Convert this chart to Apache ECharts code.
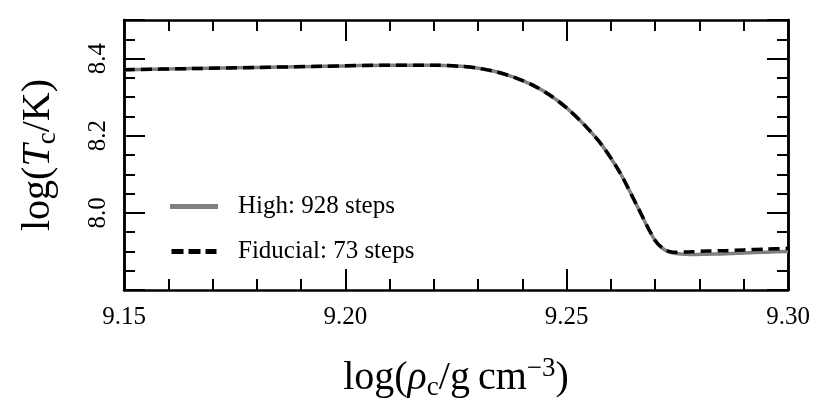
<!DOCTYPE html>
<html>
<head>
<meta charset="utf-8">
<script src="https://cdn.jsdelivr.net/npm/echarts@6.0.0/dist/echarts.min.js"></script>
<style>
  html, body { margin: 0; padding: 0; background: #ffffff; }
  #chart { width: 830px; height: 415px; }
</style>
</head>
<body>
<div id="chart"></div>
<script>
  // central density / temperature track
  const highRho = [9.150, 9.160, 9.170, 9.180, 9.190, 9.200, 9.210, 9.216, 9.220, 9.223,
    9.226, 9.228, 9.230, 9.234, 9.238, 9.242, 9.246, 9.250, 9.254, 9.258,
    9.262, 9.264, 9.266, 9.268, 9.270, 9.272, 9.274, 9.276, 9.278, 9.282,
    9.286, 9.290, 9.295, 9.300];
  const highT = [8.371, 8.373, 8.375, 8.377, 8.379, 8.381, 8.383, 8.383, 8.383, 8.382,
    8.380, 8.378, 8.375, 8.366, 8.352, 8.333, 8.307, 8.272, 8.228, 8.175,
    8.105, 8.062, 8.016, 7.969, 7.928, 7.905, 7.896, 7.893, 7.892, 7.893,
    7.894, 7.896, 7.898, 7.900];

  const fidRho = [9.150, 9.165, 9.180, 9.195, 9.210, 9.220, 9.226, 9.230, 9.234, 9.238,
    9.242, 9.246, 9.250, 9.254, 9.258, 9.262, 9.266, 9.270, 9.272, 9.274,
    9.278, 9.282, 9.286, 9.290, 9.295, 9.300];
  const fidT = [8.371, 8.374, 8.377, 8.380, 8.383, 8.383, 8.380, 8.375, 8.366, 8.352,
    8.333, 8.307, 8.272, 8.228, 8.175, 8.105, 8.016, 7.928, 7.906, 7.898,
    7.899, 7.901, 7.902, 7.904, 7.906, 7.908];

  const seriesNames = ['High: 928 steps', 'Fiducial: 73 steps'];
  const xTicks = [9.15, 9.20, 9.25, 9.30];
  const yTicks = [8.0, 8.2, 8.4];

  const FONT = 'Liberation Serif';
  const zip = (xs, ys) => xs.map((x, i) => [x, ys[i]]);
  const isTick = (list, v) => list.some(t => Math.abs(t - v) < 1e-6);

  const frame = { show: true, onZero: false, lineStyle: { color: '#000', width: 2.5 } };
  const tickStyle = { color: '#000', width: 2 };

  function xAxis(position, withLabels) {
    return {
      type: 'value', position: position, min: 9.15, max: 9.30, interval: 0.05,
      axisLine: frame,
      axisTick: { show: true, inside: true, length: 21, lineStyle: tickStyle },
      minorTick: { show: true, splitNumber: 5, length: 11, lineStyle: tickStyle },
      splitLine: { show: false },
      axisLabel: {
        show: withLabels, margin: 15, color: '#000', fontFamily: FONT, fontSize: 25,
        formatter: v => isTick(xTicks, v) ? v.toFixed(2) : ''
      }
    };
  }

  function yAxis(position, major, withLabels) {
    return {
      type: 'value', position: position, min: 7.8, max: 8.5,
      interval: major ? 0.2 : 0.05,
      axisLine: frame,
      axisTick: { show: true, inside: true, length: major ? 21 : 11, lineStyle: tickStyle },
      splitLine: { show: false },
      axisLabel: {
        show: withLabels, rotate: 90, margin: 13, color: '#000', fontFamily: FONT, fontSize: 25,
        formatter: v => isTick(yTicks, v) ? v.toFixed(1) : ''
      }
    };
  }

  const xMain = xAxis('bottom', true);
  xMain.name = 'log({it|ρ}{sub|c}/g\u2009cm{sup|−3})';
  xMain.nameLocation = 'middle';
  xMain.nameGap = 65;
  xMain.nameTextStyle = {
    color: '#000', fontFamily: FONT, fontSize: 40, lineHeight: 46,
    rich: {
      it: { fontFamily: FONT, fontSize: 40, fontStyle: 'italic', color: '#000' },
      sub: { fontFamily: FONT, fontSize: 27, lineHeight: 27, verticalAlign: 'bottom', color: '#000' },
      sup: { fontFamily: FONT, fontSize: 27, lineHeight: 40, verticalAlign: 'top', color: '#000' }
    }
  };

  const yMain = yAxis('left', true, true);
  yMain.name = 'log({it|T}{sub|c}/K)';
  yMain.nameLocation = 'middle';
  yMain.nameGap = 63;
  yMain.nameTextStyle = {
    color: '#000', fontFamily: FONT, fontSize: 40, lineHeight: 46,
    rich: {
      it: { fontFamily: FONT, fontSize: 40, fontStyle: 'italic', color: '#000' },
      sub: { fontFamily: FONT, fontSize: 27, lineHeight: 27, verticalAlign: 'bottom', color: '#000' }
    }
  };

  const chart = echarts.init(document.getElementById('chart'), null, { renderer: 'canvas' });
  chart.setOption({
    animation: false,
    backgroundColor: '#ffffff',
    grid: { left: 124, right: 42, top: 20, bottom: 125, containLabel: false, outerBoundsMode: 'none' },
    legend: {
      orient: 'vertical', left: 165, top: 189, itemGap: 20,
      itemWidth: 48, itemHeight: 5,
      itemStyle: { borderWidth: 0 },
      textStyle: { color: '#000', fontFamily: FONT, fontSize: 25, padding: [0, 0, 0, 15] },
      data: [
        { name: seriesNames[0], icon: 'path://M0,0H48V5H0Z' },
        { name: seriesNames[1], icon: 'path://M0,0H12V5H0Z M17,0H29V5H17Z M34,0H45V5H34Z' }
      ]
    },
    xAxis: [xMain, xAxis('top', false)],
    yAxis: [yMain, yAxis('left', false, false), yAxis('right', true, false), yAxis('right', false, false)],
    series: [
      {
        name: seriesNames[0], type: 'line', xAxisIndex: 0, yAxisIndex: 0,
        data: zip(highRho, highT), showSymbol: false, symbol: 'none', smooth: 0.3,
        lineStyle: { color: '#808080', width: 3.5 }, itemStyle: { color: '#808080', borderWidth: 0 }
      },
      {
        name: seriesNames[1], type: 'line', xAxisIndex: 0, yAxisIndex: 0,
        data: zip(fidRho, fidT), showSymbol: false, symbol: 'none', smooth: 0.3,
        lineStyle: { color: '#000', width: 3.5, type: [11, 6] }, itemStyle: { color: '#000', borderWidth: 0 }
      }
    ]
  });
</script>
</body>
</html>
